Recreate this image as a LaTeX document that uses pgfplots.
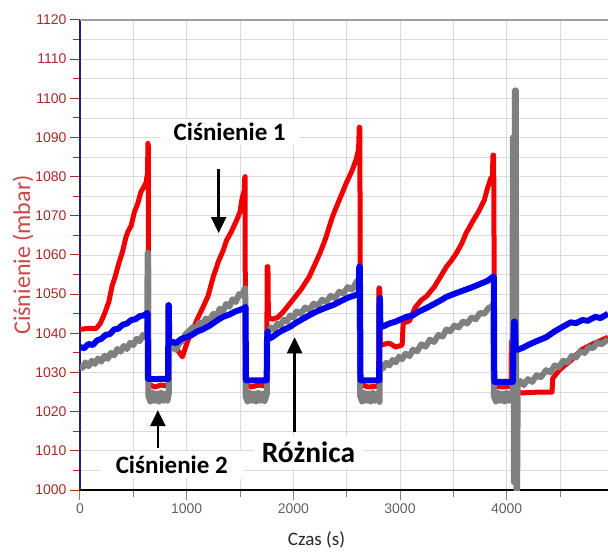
\documentclass[border=0pt]{standalone}
\usepackage{fontspec}
\setmainfont{Carlito}
\newfontfamily\tickfont{Liberation Sans}
\usepackage{pgfplots}
\usepackage{pgfplotstable}
\pgfplotsset{compat=1.18}
\usetikzlibrary{arrows.meta}

\definecolor{ticklab}{RGB}{170,40,40}
\definecolor{ylab}{RGB}{205,70,70}
\definecolor{navyax}{RGB}{30,30,130}
\definecolor{gridc}{RGB}{218,218,222}
\definecolor{sgray}{RGB}{128,128,128}
\definecolor{sblue}{RGB}{0,0,235}
\definecolor{sred}{RGB}{240,0,0}

% Ciśnienie 1
\pgfplotstableread{
x y
0 1041
80 1041.3
150 1041.2
190 1042.5
230 1045
270 1048
300 1052
330 1054.5
360 1057.5
400 1061
430 1064.5
450 1066
480 1067.5
510 1071
540 1073
570 1076
600 1077.5
620 1078.5
630 1080.5
634 1080
636 1088.5
640 1088
642 1060
644 1027
700 1026.3
760 1026.8
830 1026.5
833 1037.5
870 1037
920 1035.5
960 1034
990 1036.5
1030 1039.5
1060 1041
1095 1043.4
1150 1046.5
1200 1049.5
1250 1054.5
1300 1058.5
1340 1061
1375 1063.8
1420 1066
1470 1069
1500 1071
1520 1074.5
1540 1076.5
1544 1079.5
1548 1080
1550 1040
1553 1027
1600 1026.3
1680 1026.8
1750 1026.5
1755 1057
1762 1057
1766 1044.2
1800 1043.6
1850 1044
1900 1045.3
1950 1047
2000 1048.7
2080 1051.5
2150 1054.5
2200 1057.5
2250 1060.5
2300 1064
2340 1067.5
2370 1070
2430 1074
2497 1078.4
2550 1081.5
2590 1084.5
2612 1087
2618 1092.7
2624 1092.5
2628 1027
2700 1026.3
2800 1026.5
2803 1051.6
2810 1051.5
2814 1037
2900 1037.5
2960 1036.5
3020 1037
3030 1042.6
3090 1043.2
3140 1046.5
3200 1048.5
3250 1049.5
3325 1052
3380 1054.5
3435 1057
3480 1058.5
3530 1060.5
3580 1063
3620 1065.6
3680 1068.5
3745 1071.5
3790 1074
3820 1077
3850 1079.5
3866 1080
3872 1085.5
3878 1085.5
3882 1060
3886 1026.5
3960 1026.3
4040 1026.5
4044 1038
4058 1038
4062 1025
4150 1024.8
4300 1025
4425 1025
4432 1028.5
4500 1030.8
4600 1033
4700 1035.8
4800 1037.2
4950 1039
}\redtab

% Ciśnienie 2
\pgfplotstableread{
x y
0 1032
25 1031.2
50 1032.6
80 1031.6
110 1033
140 1032.2
170 1033.6
200 1032.8
230 1034.3
260 1033.5
290 1035
320 1034.4
350 1036
380 1035.3
410 1036.8
440 1036
470 1037.6
500 1037
530 1038.6
560 1038
590 1039.6
615 1039
630 1040.3
634 1060.5
638 1060.5
641 1024
660 1022.6
680 1024.8
700 1022.8
720 1024.6
740 1022.6
760 1024.8
780 1022.8
800 1024.6
820 1022.8
832 1024.5
836 1035.5
870 1036.8
900 1035.8
930 1037.5
960 1038
990 1039.8
1020 1040.5
1060 1041.6
1090 1041
1120 1042.8
1150 1042.2
1180 1043.8
1210 1043.2
1250 1045
1280 1044.4
1310 1046.3
1340 1045.6
1370 1047.5
1400 1046.8
1430 1048.7
1460 1048
1490 1050
1520 1049.6
1545 1051.5
1549 1051.5
1552 1024
1570 1022.6
1590 1024.8
1610 1022.8
1630 1024.6
1650 1022.6
1670 1024.8
1690 1022.8
1710 1024.6
1730 1022.7
1752 1024.5
1756 1040
1790 1041.5
1820 1041
1850 1042.5
1880 1042
1910 1043.5
1940 1043
1970 1044.6
2000 1044
2030 1045.6
2070 1045
2110 1046.6
2150 1046
2190 1047.6
2230 1047
2270 1048.6
2310 1048
2350 1049.6
2390 1049
2430 1050.6
2470 1050.2
2510 1051.8
2550 1051.2
2590 1053
2616 1054
2620 1054
2626 1024
2645 1022.6
2665 1024.8
2685 1022.8
2705 1024.6
2725 1022.6
2745 1024.8
2765 1022.8
2785 1024.6
2808 1022.5
2812 1031.8
2840 1031
2870 1032.5
2900 1031.8
2930 1033.2
2960 1032.6
2990 1034
3020 1033.4
3050 1034.8
3090 1034.2
3120 1035.8
3160 1035.4
3200 1037.2
3240 1036.6
3280 1038.4
3320 1037.8
3360 1039.6
3400 1039.2
3435 1041
3470 1040.5
3510 1042
3550 1041.5
3590 1043
3630 1042.5
3670 1044
3710 1043.6
3750 1045.2
3790 1045
3830 1046.5
3860 1046.8
3874 1047.5
3880 1024
3900 1022.6
3920 1024.8
3940 1022.8
3960 1024.6
3980 1022.6
4000 1024.8
4020 1022.8
4040 1024.6
4055 1024.5
4058 1090
4066 1090
4068 1002
4074 1002
4078 1102
4086 1102
4090 1000
4098 1000
4104 1027
4130 1027.8
4160 1026.8
4200 1028.3
4240 1027.6
4280 1029.3
4320 1028.8
4370 1030.6
4410 1030
4450 1031.8
4490 1031.4
4530 1033
4570 1032.6
4610 1034.2
4650 1033.8
4690 1035.4
4730 1035
4770 1036.5
4810 1036.2
4850 1037.6
4890 1037.2
4950 1038.5
}\graytab

% Różnica
\pgfplotstableread{
x y
0 1036.5
40 1036.2
80 1037.3
120 1037
160 1038.2
200 1038.6
240 1039.6
280 1039.8
320 1041
360 1041.2
400 1042.2
440 1042.5
480 1043.4
520 1043.6
560 1044.4
600 1044.6
630 1045.2
634 1045
637 1028.4
700 1028.3
760 1028.4
826 1028.3
829 1047.2
833 1047.2
836 1037.5
870 1037.8
900 1037.5
950 1038.6
1000 1039
1050 1039.6
1100 1040.5
1150 1041
1217 1042
1280 1043.2
1340 1044.2
1400 1044.8
1450 1045.5
1500 1046
1540 1046.4
1552 1046.8
1556 1028
1750 1028
1753 1038
1758 1040.5
1763 1038.5
1800 1039
1850 1040
1900 1040.8
1965 1041.6
2020 1042.6
2070 1043.4
2155 1044.7
2220 1045.6
2300 1046.5
2380 1047.3
2450 1048.3
2520 1049.2
2590 1049.8
2615 1050.3
2618 1057
2624 1057
2630 1028
2805 1028
2808 1049
2812 1049
2816 1041.5
2860 1042
2900 1042.5
2960 1043
3000 1043.5
3060 1044.2
3120 1044.6
3180 1045.6
3250 1046.5
3320 1047.5
3380 1048.4
3435 1049.3
3500 1050
3560 1050.6
3600 1051
3680 1051.8
3750 1052.6
3820 1053.4
3870 1054.4
3880 1054.4
3884 1027.6
4058 1027.6
4062 1036
4070 1043
4076 1043
4082 1036.5
4100 1035.8
4150 1036.3
4200 1037
4280 1038
4370 1039
4450 1040.5
4520 1041.6
4600 1042.8
4650 1042.6
4710 1043.4
4760 1043.2
4830 1044.2
4880 1043.9
4950 1045
}\bluetab

\begin{document}
\begin{tikzpicture}
\begin{axis}[
    width=528pt, height=470pt, scale only axis,
    xmin=0, xmax=4950, ymin=1000, ymax=1120,
    axis x line=bottom, axis y line=left, axis line style={-},
    x axis line style={black, line width=1.4pt},
    y axis line style={navyax, line width=1.2pt},
    xtick={0,1000,2000,3000,4000},
    minor xtick={500,1500,2500,3500,4500},
    ytick={1000,1010,...,1120},
    minor ytick={1005,1015,...,1115},
    grid=both,
    major grid style={gridc, line width=0.8pt},
    minor grid style={gridc, line width=0.8pt},
    tick align=outside,
    major tick length=10pt, minor tick length=7pt,
    tick style={line width=1pt},
    ytick style={ticklab},
    scaled ticks=false,
    /pgf/number format/assume math mode=true,
    /pgf/number format/1000 sep={},
    xticklabel style={font=\tickfont\fontsize{14}{14}\selectfont, text=black!62},
    yticklabel style={font=\tickfont\fontsize{14}{14}\selectfont, text=ticklab},
    xlabel={Czas (s)},
    ylabel={Ciśnienie (mbar)},
    every axis x label/.style={at={(rel axis cs:0.448,0)}, anchor=north, yshift=-41pt, inner sep=0pt, font=\fontsize{19}{19}\selectfont, text=black!85},
    every axis y label/.style={at={(rel axis cs:-0.108,0.5)}, rotate=90, anchor=center, inner sep=0pt, font=\fontsize{24}{24}\selectfont, text=ylab},
    clip mode=individual,
]
\addplot[sred, line width=5pt, line join=round] table {\redtab};
\addplot[sgray, line width=6pt, line join=round] table {\graytab};
\addplot[sblue, line width=6pt, line join=round] table {\bluetab};

\node[fill=white, inner xsep=13pt, inner ysep=4pt, font=\bfseries\fontsize{25}{25}\selectfont] at (axis cs:1403,1091.4) {Ciśnienie 1};
\draw[-{Triangle[width=15pt,length=16pt]}, line width=2.5pt] (axis cs:1300,1082) -- (axis cs:1300,1065.6);
\node[fill=white, inner xsep=16pt, inner ysep=5pt, font=\bfseries\fontsize{25}{25}\selectfont] at (axis cs:860,1006.4) {Ciśnienie 2};
\draw[-{Triangle[width=15pt,length=16pt]}, line width=2.5pt] (axis cs:730,1010.7) -- (axis cs:730,1020.4);
\draw[-{Triangle[width=15pt,length=16pt]}, line width=2.5pt] (axis cs:2012,1014.8) -- (axis cs:2012,1039);
\node[fill=white, inner xsep=8pt, inner ysep=6pt, font=\bfseries\fontsize{29.5}{29.5}\selectfont] at (axis cs:2142,1009.7) {Różnica};
\end{axis}
\draw[gray!75, line width=1.5pt] (current axis.north west) -- (current axis.north east);
\pgfresetboundingbox
\path ([xshift=-80pt,yshift=-62pt]current axis.south west) rectangle ([yshift=20pt]current axis.north east);
\end{tikzpicture}
\end{document}
